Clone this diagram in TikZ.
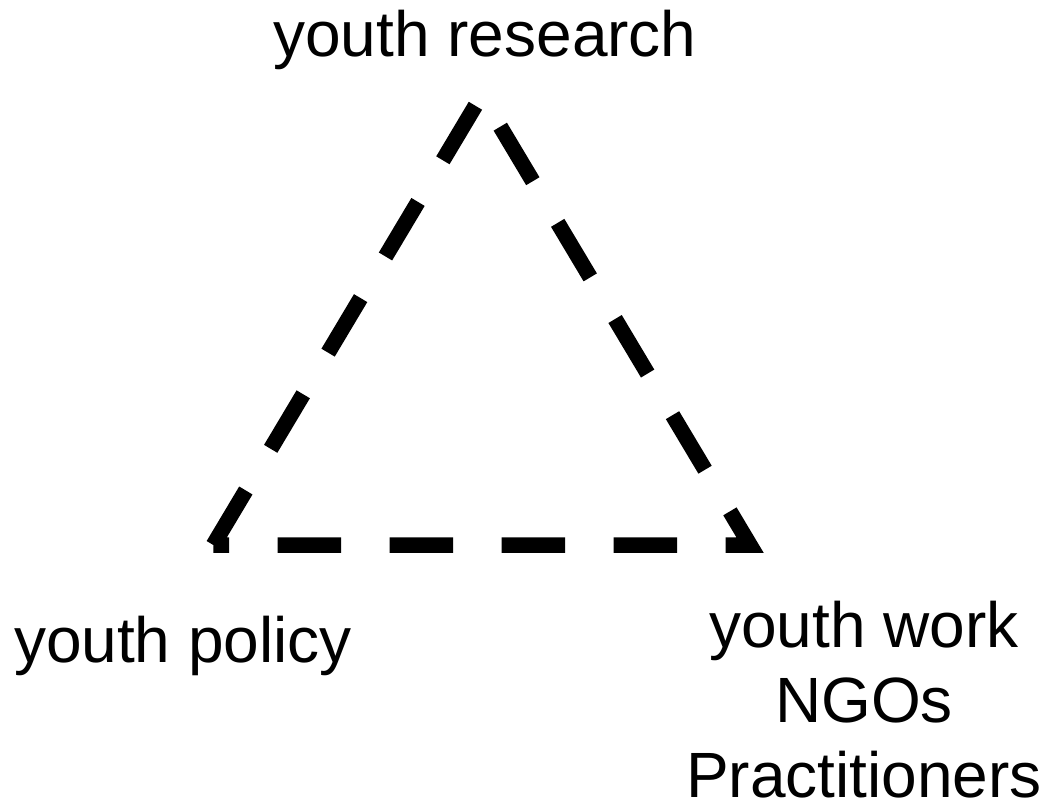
\documentclass[tikz,border=0pt]{standalone}
\usepackage{fontspec}
\setmainfont{Liberation Sans}
\begin{document}
\begin{tikzpicture}[x=1pt,y=-1pt,
  lbl/.style={font=\fontsize{64}{75}\selectfont, inner sep=0pt, outer sep=0pt, text=black},
  tri/.style={draw=black, line width=15.5pt, dash pattern=on 63.5pt off 48.5pt, line join=miter, line cap=butt}]
\useasboundingbox (0,0) rectangle (1042,800);
\fill[white] (0,0) rectangle (1042,800);
\coordinate (bl) at (213.3,545);
\coordinate (ap) at (481.6,95.4);
\coordinate (br) at (750,545);
\draw[tri] (bl) -- (ap) -- (br) -- cycle;
\node[lbl, anchor=base] (research) at (485,57) {youth research};
\node[lbl, anchor=base] (policy) at (183,662) {youth policy};
\node[lbl, anchor=north, align=center] (work) at (864,601) {youth work\\NGOs\\Practitioners};
\end{tikzpicture}
\end{document}
